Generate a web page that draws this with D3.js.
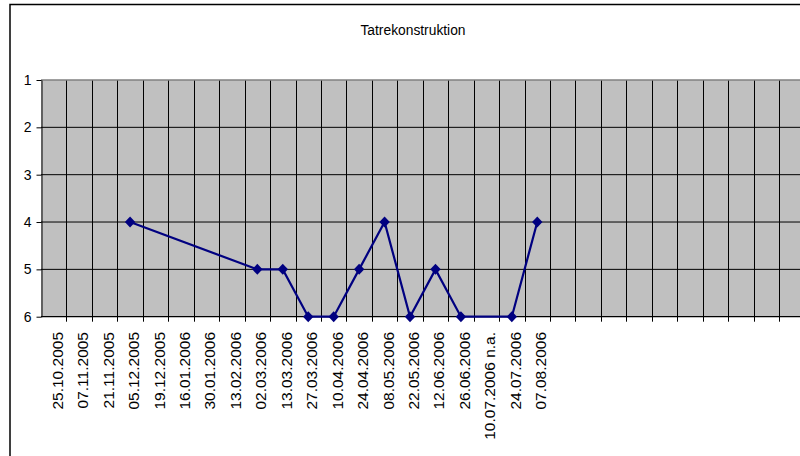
<!DOCTYPE html>
<meta charset="utf-8">
<style>
body { margin: 0; background: #fff; }
svg { display: block; }
text { font-family: "Liberation Sans", Arial, sans-serif; fill: #000; }
</style>
<body>
<div id="chart"></div>
<script src="https://d3js.org/d3.v7.min.js"></script>
<script>

var width = 800,
    height = 456;

var dates = ["25.10.2005", "07.11.2005", "21.11.2005", "05.12.2005", "19.12.2005",
    "16.01.2006", "30.01.2006", "13.02.2006", "02.03.2006", "13.03.2006",
    "27.03.2006", "10.04.2006", "24.04.2006", "08.05.2006", "22.05.2006",
    "12.06.2006", "26.06.2006", "10.07.2006 n.a.", "24.07.2006", "07.08.2006"];
var ranks = [null, null, null, 4, null, null, null, null, 5, 5,
    6, 6, 5, 4, 6, 5, 6, null, 6, 4];
var yTicks = [1, 2, 3, 4, 5, 6];
var slotCount = 31; // empty category slots run on past the right edge

var plotLeft = 41,
    plotTop = 80,
    plotBottom = 316.7,
    slotWidth = 25.45;

var svg = d3.select("#chart").append("svg")
    .attr("width", width)
    .attr("height", height);

// chart frame (cut off at right and bottom)
svg.append("rect")
    .attr("x", 10).attr("y", 4.5)
    .attr("width", 900).attr("height", 600)
    .attr("fill", "#fff")
    .attr("stroke", "#000")
    .attr("stroke-width", 1.5);

svg.append("text")
    .attr("x", 413).attr("y", 35)
    .attr("text-anchor", "middle")
    .style("font-size", "13.8px")
    .text("Tatrekonstruktion");

var x = d3.scaleBand()
    .domain(d3.range(slotCount))
    .range([plotLeft, plotLeft + slotCount * slotWidth]);

var y = d3.scaleLinear()
    .domain([1, 6])
    .range([plotTop, plotBottom]);

var plotRight = x.range()[1];

svg.append("rect")
    .attr("x", plotLeft).attr("y", plotTop)
    .attr("width", plotRight - plotLeft).attr("height", plotBottom - plotTop)
    .attr("fill", "#c0c0c0");

// vertical grid at category boundaries
svg.append("g")
    .selectAll("line")
    .data(d3.range(1, slotCount))
    .join("line")
    .attr("x1", function(d) { return Math.round(x(d)) + 0.5; })
    .attr("x2", function(d) { return Math.round(x(d)) + 0.5; })
    .attr("y1", plotTop)
    .attr("y2", plotBottom + 5)
    .attr("stroke", "#000")
    .attr("stroke-width", 1);

// horizontal grid
svg.append("g")
    .selectAll("line")
    .data(yTicks.slice(1, -1))
    .join("line")
    .attr("x1", plotLeft).attr("x2", plotRight)
    .attr("y1", function(d) { return y(d); })
    .attr("y2", function(d) { return y(d); })
    .attr("stroke", "#000")
    .attr("stroke-width", 1);

svg.append("line")
    .attr("x1", plotLeft).attr("x2", plotRight)
    .attr("y1", plotTop).attr("y2", plotTop)
    .attr("stroke", "#808080")
    .attr("stroke-width", 1.5);

// y axis
var yAxis = svg.append("g")
    .attr("transform", "translate(" + (plotLeft + 0.5) + ",0)")
    .call(d3.axisLeft(y).tickValues(yTicks).tickFormat(d3.format("d"))
        .tickSize(5).tickPadding(5).tickSizeOuter(0));
yAxis.select(".domain").attr("stroke", "#000");
yAxis.selectAll(".tick line").attr("stroke", "#000");
yAxis.selectAll(".tick text")
    .style("font-size", "14px")
    .style("font-family", "'Liberation Sans', Arial, sans-serif");

// x axis line
svg.append("line")
    .attr("x1", plotLeft).attr("x2", plotRight)
    .attr("y1", plotBottom).attr("y2", plotBottom)
    .attr("stroke", "#000")
    .attr("stroke-width", 1.2);

// category labels
svg.append("g")
    .selectAll("text")
    .data(dates)
    .join("text")
    .attr("transform", function(d, i) {
        return "translate(" + (x(i) + x.bandwidth() / 2) + ",332) rotate(-90)";
    })
    .attr("text-anchor", "end")
    .attr("dy", 9)
    .style("font-size", "15.5px")
    .text(function(d) { return d; });

// series
var points = ranks.map(function(v, i) { return {i: i, v: v}; })
    .filter(function(d) { return d.v !== null; });

var line = d3.line()
    .x(function(d) { return x(d.i) + x.bandwidth() / 2; })
    .y(function(d) { return y(d.v); });

svg.append("path")
    .datum(points)
    .attr("d", line)
    .attr("fill", "none")
    .attr("stroke", "#000080")
    .attr("stroke-width", 2.2);

svg.append("g")
    .selectAll("path")
    .data(points)
    .join("path")
    .attr("transform", function(d) {
        return "translate(" + (x(d.i) + x.bandwidth() / 2) + "," + y(d.v) + ")";
    })
    .attr("d", "M0,-5.5L5.2,0L0,5.5L-5.2,0Z")
    .attr("fill", "#000080");

</script>
</body>
